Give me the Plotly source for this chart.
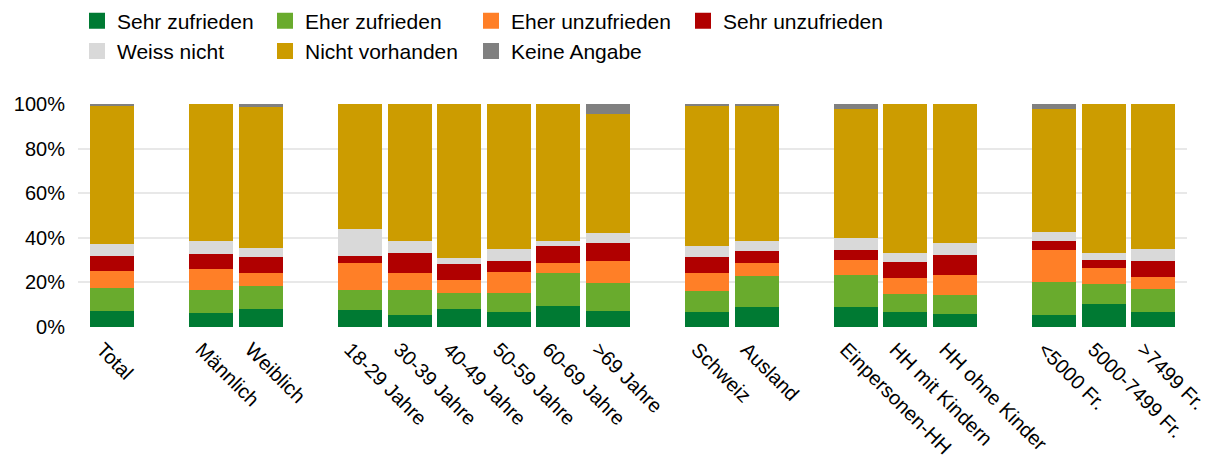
import plotly.graph_objects as go

# categories, "" = empty slot between groups
categories = ["Total", "", "Männlich", "Weiblich", "",
              "18-29 Jahre", "30-39 Jahre", "40-49 Jahre", "50-59 Jahre", "60-69 Jahre", ">69 Jahre", "",
              "Schweiz", "Ausland", "",
              "Einpersonen-HH", "HH mit Kindern", "HH ohne Kinder", "",
              "<5000 Fr.", "5000-7499 Fr.", ">7499 Fr."]

sehr_zufrieden = [7.4, 6.3, 8.1, 7.8, 5.6, 8.1, 6.6, 9.3, 7.1, 6.8, 8.9, 9.0, 6.8, 6.0, 5.6, 10.4, 6.8]
eher_zufrieden = [9.9, 10.1, 10.3, 8.6, 10.8, 7.3, 8.5, 15.1, 12.6, 9.3, 13.8, 14.2, 8.1, 8.3, 14.7, 9.0, 10.4]
eher_unzufrieden = [7.9, 9.5, 6.0, 12.1, 8.0, 5.7, 9.6, 4.1, 10.0, 8.1, 5.8, 6.9, 7.2, 9.0, 14.2, 7.0, 5.1]
sehr_unzufrieden = [6.8, 6.8, 7.1, 3.4, 8.7, 7.1, 5.0, 7.9, 7.8, 7.3, 5.7, 4.4, 7.0, 9.2, 4.1, 3.7, 7.5]
weiss_nicht = [5.0, 6.0, 3.9, 12.1, 5.6, 2.7, 5.5, 2.2, 4.8, 4.9, 4.4, 5.4, 4.2, 5.3, 4.2, 3.3, 5.4]
nicht_vorhanden = [61.9, 61.3, 63.1, 56.0, 61.3, 69.1, 64.8, 61.4, 53.3, 62.5, 60.3, 58.0, 66.7, 62.2, 54.8, 66.6, 64.8]
keine_angabe = [1.1, 0.0, 1.5, 0.0, 0.0, 0.0, 0.0, 0.0, 4.4, 1.1, 1.1, 2.1, 0.0, 0.0, 2.4, 0.0, 0.0]

series = [
    ("Sehr zufrieden", sehr_zufrieden, "#007a33", "legend"),
    ("Eher zufrieden", eher_zufrieden, "#69ab2d", "legend2"),
    ("Eher unzufrieden", eher_unzufrieden, "#ff7f27", "legend3"),
    ("Sehr unzufrieden", sehr_unzufrieden, "#b00000", "legend4"),
    ("Weiss nicht", weiss_nicht, "#d9d9d9", "legend"),
    ("Nicht vorhanden", nicht_vorhanden, "#cc9c00", "legend2"),
    ("Keine Angabe", keine_angabe, "#808080", "legend3"),
]

xpos = [i for i, c in enumerate(categories) if c]
labels = [c for c in categories if c]

fig = go.Figure()
for name, vals, color, leg in series:
    fig.add_trace(go.Bar(x=xpos, y=vals, name=name, marker_color=color,
                         marker_line_width=0, showlegend=False, hoverinfo="skip"))
# legend entries (square symbols), arranged in columns like the original
order = ["Sehr zufrieden", "Weiss nicht", "Eher zufrieden", "Nicht vorhanden",
         "Eher unzufrieden", "Keine Angabe", "Sehr unzufrieden"]
lookup = {s[0]: s for s in series}
for name in order:
    _, _, color, leg = lookup[name]
    fig.add_trace(go.Scatter(x=[xpos[0]], y=[None], mode="markers", name=name, legend=leg,
                             legendgroup=name,
                             marker=dict(symbol="square", size=18, color=color), hoverinfo="skip"))

font = dict(family="Liberation Sans, Arial, sans-serif", size=20, color="black")
leg_font = dict(family="Liberation Sans, Arial, sans-serif", size=21, color="black")
leg_x = [69, 257, 463, 675]
for i, key in enumerate(["legend", "legend2", "legend3", "legend4"]):
    fig.update_layout({key: dict(xref="container", yref="paper",
                                 x=leg_x[i] / 1210, y=1 + 103.5 / 223,
                                 xanchor="left", yanchor="top", traceorder="normal",
                                 orientation="v", font=leg_font, bgcolor="rgba(0,0,0,0)",
                                 borderwidth=0, tracegroupgap=1)})

fig.update_layout(
    barmode="stack", bargap=0.113,
    width=1210, height=465,
    margin=dict(l=70, r=31, t=96, b=146, autoexpand=False),
    plot_bgcolor="white", paper_bgcolor="white",
    font=font,
    showlegend=True,
)
fig.update_xaxes(type="linear", range=[-0.69, 21.68], tickvals=xpos, ticktext=labels, tickangle=45,
                 showgrid=False, zeroline=False, showline=False, ticks="", tickfont=font,
                 ticklabelstandoff=6, ticklabelshift=-10)
fig.update_yaxes(type="linear", range=[0, 100], dtick=20, ticksuffix="%", showgrid=True,
                 gridcolor="#e8e8e8", gridwidth=2, zeroline=False, showline=False,
                 ticks="", ticklabelstandoff=12, tickfont=font)

fig.write_html("out.html")
